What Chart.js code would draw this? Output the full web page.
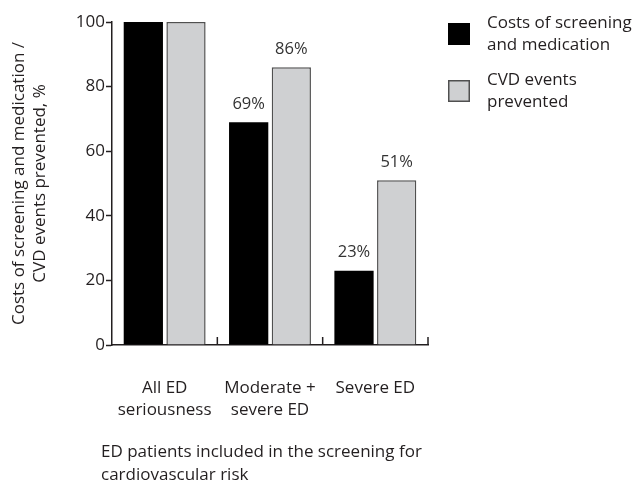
<!DOCTYPE html>
<html>
<head>
<meta charset="utf-8">
<script src="https://cdn.jsdelivr.net/npm/chart.js@4.4.1/dist/chart.umd.min.js"></script>
<style>
  html, body { margin: 0; padding: 0; background: #fff; }
  canvas { display: block; }
</style>
</head>
<body>
<canvas id="chart" width="638" height="492"></canvas>
<script>
// ---- data ----
const categories = [['All ED', 'seriousness'], ['Moderate +', 'severe ED'], ['Severe ED']];
const costs = [100, 69, 23];
const prevented = [100, 86, 51];
const yTicks = [0, 20, 40, 60, 80, 100];
const seriesNames = [['Costs of screening', 'and medication'], ['CVD events', 'prevented']];
const yTitle = ['Costs of screening and medication /', 'CVD events prevented, %'];
const xTitle = ['ED patients included in the screening for', 'cardiovascular risk'];
const showValue = [false, true, true];

// ---- styling ----
const FONT = '"Open Sans"';
const INK = '#231f20';
const BLACK = '#000000';
const GREY = '#cfd0d2';
const GREY_EDGE = '#505050';

// percentage labels above bars
const valueLabels = {
  id: 'valueLabels',
  afterDatasetsDraw(chart) {
    const ctx = chart.ctx;
    ctx.save();
    ctx.font = `16.5px ${FONT}`;
    ctx.fillStyle = '#333333';
    ctx.textAlign = 'center';
    ctx.textBaseline = 'middle';
    chart.data.datasets.forEach((ds, di) => {
      const meta = chart.getDatasetMeta(di);
      meta.data.forEach((bar, i) => {
        if (!showValue[i]) return;
        ctx.fillText(ds.data[i] + '%', bar.x, bar.y - 18);
      });
    });
    ctx.restore();
  }
};

// short upward ticks on the x axis between category groups
const groupTicks = {
  id: 'groupTicks',
  afterDraw(chart) {
    const x = chart.scales.x;
    const ctx = chart.ctx;
    const step = x.width / categories.length;
    ctx.save();
    ctx.strokeStyle = INK;
    ctx.lineWidth = 1.5;
    for (let i = 0; i < categories.length; i++) {
      const px = x.getPixelForValue(i) + step / 2;
      ctx.beginPath();
      ctx.moveTo(px, x.top);
      ctx.lineTo(px, x.top - 8);
      ctx.stroke();
    }
    ctx.restore();
  }
};

// x axis title, left aligned beneath the category labels
const bottomTitle = {
  id: 'bottomTitle',
  afterDraw(chart) {
    const ctx = chart.ctx;
    const a = chart.chartArea;
    ctx.save();
    ctx.font = `17px ${FONT}`;
    ctx.fillStyle = INK;
    ctx.textAlign = 'left';
    ctx.textBaseline = 'middle';
    xTitle.forEach((line, i) => ctx.fillText(line, a.left - 11, a.bottom + 107 + i * 23));
    ctx.restore();
  }
};

// legend to the right of the plot
const sideLegend = {
  id: 'sideLegend',
  afterDraw(chart) {
    const ctx = chart.ctx;
    const fills = [BLACK, GREY];
    const edges = [BLACK, GREY_EDGE];
    ctx.save();
    ctx.font = `17px ${FONT}`;
    ctx.textAlign = 'left';
    ctx.textBaseline = 'middle';
    seriesNames.forEach((lines, i) => {
      const top = 23 + i * 57;
      ctx.fillStyle = fills[i];
      ctx.fillRect(448, top, 22, 22);
      ctx.strokeStyle = edges[i];
      ctx.lineWidth = 1.5;
      ctx.strokeRect(448.75, top + 0.75, 20.5, 20.5);
      ctx.fillStyle = INK;
      lines.forEach((t, j) => ctx.fillText(t, 487, top + j * 22));
    });
    ctx.restore();
  }
};

new Chart(document.getElementById('chart'), {
  type: 'bar',
  data: {
    labels: categories,
    datasets: [
      { label: seriesNames[0].join(' '), data: costs, backgroundColor: BLACK, borderColor: BLACK, borderWidth: 0 },
      { label: seriesNames[1].join(' '), data: prevented, backgroundColor: GREY, borderColor: GREY_EDGE, borderWidth: 1.5 }
    ]
  },
  options: {
    responsive: false,
    animation: false,
    categoryPercentage: 0.81,
    barPercentage: 0.92,
    layout: { padding: { left: 0, top: 22, right: 210, bottom: 0 } },
    plugins: {
      legend: { display: false },
      tooltip: { enabled: false }
    },
    scales: {
      x: {
        offset: true,
        grid: { display: false, drawTicks: false },
        border: { display: true, color: INK, width: 1.5 },
        ticks: { color: INK, font: { family: FONT, size: 17, lineHeight: 1.3 }, padding: 32, maxRotation: 0 },
        afterFit(s) { s.height = 147; }
      },
      y: {
        min: 0,
        max: 100,
        afterBuildTicks(s) { s.ticks = yTicks.map(v => ({ value: v })); },
        grid: { drawOnChartArea: false, drawTicks: true, tickLength: 6, tickColor: INK, tickWidth: 1.5 },
        border: { display: true, color: INK, width: 1.5 },
        ticks: { color: INK, font: { family: FONT, size: 17 }, padding: 1 },
        title: {
          display: true,
          text: yTitle,
          color: INK,
          font: { family: FONT, size: 17, lineHeight: 1.24 },
          padding: { top: 9, bottom: 0 }
        },
        afterFit(s) { s.width = 112; }
      }
    }
  },
  plugins: [valueLabels, groupTicks, bottomTitle, sideLegend]
});
</script>
</body>
</html>
